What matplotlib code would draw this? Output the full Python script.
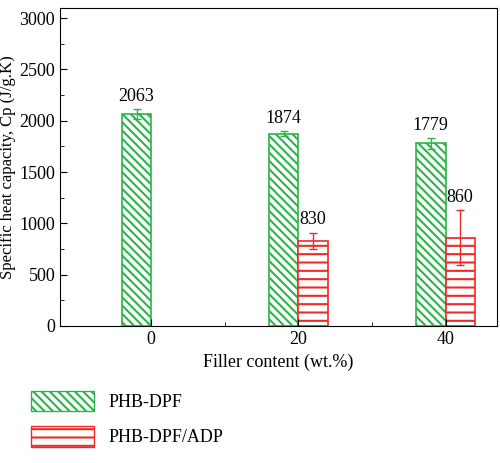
import numpy as np
import matplotlib
matplotlib.use("Agg")
import matplotlib.pyplot as plt
from matplotlib.patches import Patch

plt.rcParams['font.family'] = ['Liberation Serif', 'DejaVu Serif']
plt.rcParams['hatch.linewidth'] = 1.5

categories = ['0', '20', '40']
phb_dpf = [2063, 1874, 1779]
phb_dpf_err = [50, 25, 55]
phb_adp = [np.nan, 830, 860]
phb_adp_err = [0, 80, 270]

green = '#2db34a'
red = '#ee2a2a'

fig = plt.figure(figsize=(5, 4.63), dpi=100)
ax = fig.add_axes([0.12, 0.296, 0.874, 0.687])

x = np.arange(len(categories))
w = 0.2
b1 = ax.bar(x - w / 2, phb_dpf, w, facecolor='white', edgecolor=green, hatch='\\\\\\\\', lw=1.2,
            yerr=phb_dpf_err, error_kw=dict(ecolor=green, capsize=3, lw=1))
b2 = ax.bar(x[1:] + w / 2, phb_adp[1:], w, facecolor='white', edgecolor=red, hatch='--', lw=1.2,
            yerr=phb_adp_err[1:], error_kw=dict(ecolor=red, capsize=3, lw=1))
for p in b1:
    p._hatch_color = matplotlib.colors.to_rgba(green)
for p in b2:
    p._hatch_color = matplotlib.colors.to_rgba(red)

for xi, v, e in zip(x - w / 2, phb_dpf, phb_dpf_err):
    ax.text(xi, v + e + 40, f'{v}', ha='center', va='bottom', fontsize=13)
for xi, v, e in zip(x[1:] + w / 2, phb_adp[1:], phb_adp_err[1:]):
    ax.text(xi, v + e + 40, f'{v:.0f}', ha='center', va='bottom', fontsize=13)

ax.set_xlim(-0.62, 2.35)
ax.set_ylim(0, 3100)
ax.set_xticks(x)
ax.set_xticklabels(categories)
ax.set_xticks([0.5, 1.5], minor=True)
ax.set_yticks(np.arange(0, 3001, 500))
ax.set_yticks(np.arange(250, 3001, 500), minor=True)
ax.tick_params(labelsize=13, direction='in', length=5)
ax.tick_params(which='minor', direction='in', length=3)
ax.set_xlabel('Filler content (wt.%)', fontsize=13)
ax.set_ylabel('Specific heat capacity, Cp (J/g.K)', fontsize=12, labelpad=2)

handles = [Patch(facecolor='white', edgecolor=green, hatch='\\\\\\\\', label='PHB-DPF'),
           Patch(facecolor='white', edgecolor=red, hatch='--', label='PHB-DPF/ADP')]
handles[0]._hatch_color = matplotlib.colors.to_rgba(green)
handles[1]._hatch_color = matplotlib.colors.to_rgba(red)
fig.legend(handles=handles, loc='lower left', bbox_to_anchor=(0.03, 0.0), frameon=False,
           fontsize=13, handlelength=3.5, handleheight=1.4, labelspacing=0.8)

fig.savefig('out.png', dpi=100)
